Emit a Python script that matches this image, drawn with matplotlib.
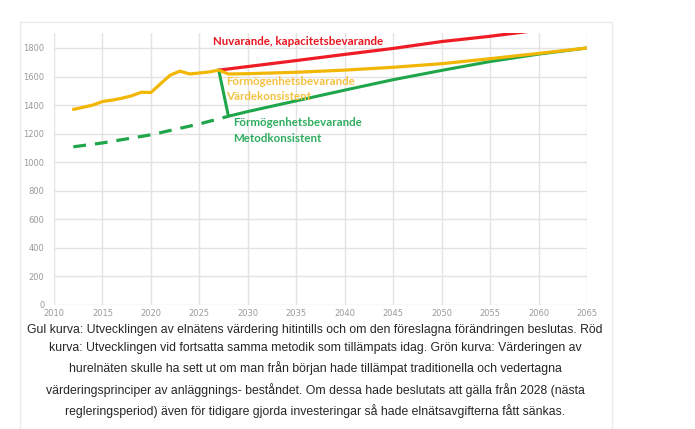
import matplotlib
matplotlib.use("Agg")
import matplotlib.pyplot as plt
from matplotlib.patches import Rectangle

# ---- data ----
yellow_years = [2012, 2013, 2014, 2015, 2016, 2017, 2018, 2019, 2020, 2021, 2022, 2023, 2024,
                2025, 2026, 2027, 2028, 2030, 2035, 2040, 2045, 2050, 2055, 2060, 2065]
yellow_vals = [1370, 1385, 1400, 1425, 1435, 1448, 1465, 1490, 1488, 1550, 1610, 1638, 1618,
               1625, 1632, 1645, 1618, 1620, 1630, 1645, 1665, 1690, 1725, 1762, 1800]

red_years = [2027, 2030, 2035, 2040, 2045, 2050, 2055, 2060]
red_vals = [1645, 1670, 1712, 1755, 1797, 1845, 1882, 1925]

green_dash_years = [2012, 2015, 2020, 2025, 2028]
green_dash_vals = [1108, 1135, 1192, 1268, 1322]

green_years = [2027, 2028, 2030, 2035, 2040, 2045, 2050, 2055, 2060, 2065]
green_vals = [1645, 1322, 1355, 1430, 1505, 1578, 1643, 1705, 1757, 1800]

x_ticks = list(range(2010, 2066, 5))
y_ticks = list(range(0, 1801, 200))

label_red = "Nuvarande, kapacitetsbevarande"
label_yellow = "Förmögenhetsbevarande\nVärdekonsistent"
label_green = "Förmögenhetsbevarande\nMetodkonsistent"

caption = ("Gul kurva: Utvecklingen av elnätens värdering hitintills och om den föreslagna förändringen beslutas. Röd\n"
           "kurva: Utvecklingen vid fortsatta samma metodik som tillämpats idag. Grön kurva: Värderingen av\n"
           "hurelnäten skulle ha sett ut om man från början hade tillämpat traditionella och vedertagna\n"
           "värderingsprinciper av anläggnings- beståndet. Om dessa hade beslutats att gälla från 2028 (nästa\n"
           "regleringsperiod) även för tidigare gjorda investeringar så hade elnätsavgifterna fått sänkas.")

RED = "#EE1C25"
YEL = "#F2B705"
GRN = "#1FA64A"

W, H = 695, 429
fig = plt.figure(figsize=(W / 100, H / 100), dpi=100)
fig.patch.set_facecolor("white")

# card border
fig.add_artist(Rectangle((20 / W, -0.05), (612 - 20) / W, 1 - 22 / H + 0.05,
                         transform=fig.transFigure, facecolor="white",
                         edgecolor="#ebebeb", linewidth=1.0, zorder=0))

ax = fig.add_axes([54 / W, 1 - 305 / H, (587 - 54) / W, (305 - 33) / H])
ax.set_facecolor("none")
ax.set_xlim(2010, 2065)
ax.set_ylim(0, 1905)
ax.set_xticks(x_ticks)
ax.set_yticks(y_ticks)
ax.grid(True, color="#e3e3e3", linewidth=1.0)
ax.set_axisbelow(True)
for s in ax.spines.values():
    s.set_visible(False)
ax.tick_params(length=0, labelsize=6, labelcolor="#9a9a9a")
ax.tick_params(axis="x", pad=3)
ax.tick_params(axis="y", pad=7)

ax.plot(red_years, red_vals, color=RED, lw=2.3, solid_capstyle="round", zorder=3)
ax.plot(yellow_years, yellow_vals, color=YEL, lw=2.3, solid_capstyle="round", zorder=4)
ax.plot(green_dash_years, green_dash_vals, color=GRN, lw=2.3, dashes=(4, 2.8), zorder=3)
ax.plot(green_years, green_vals, color=GRN, lw=2.2, zorder=3)

fam = ["Lato", "DejaVu Sans"]
ax.text(2026.4, 1842, label_red, color="#E8141E", fontsize=8.3, fontweight="bold",
        family=fam, va="center", ha="left", zorder=5)
ax.text(2027.8, 1512, label_yellow, color="#F5C142", fontsize=8.3, fontweight="bold",
        family=fam, va="center", ha="left", linespacing=1.5, zorder=5)
ax.text(2028.5, 1222, label_green, color="#2EAD5F", fontsize=8.3, fontweight="bold",
        family=fam, va="center", ha="left", linespacing=1.5, zorder=5)

fig.text(315 / W, 1 - 371 / H, caption, ha="center", va="center",
         fontsize=8.8, color="#262626", linespacing=1.68,
         family=["Liberation Sans"])

fig.savefig("out.png", dpi=100)
